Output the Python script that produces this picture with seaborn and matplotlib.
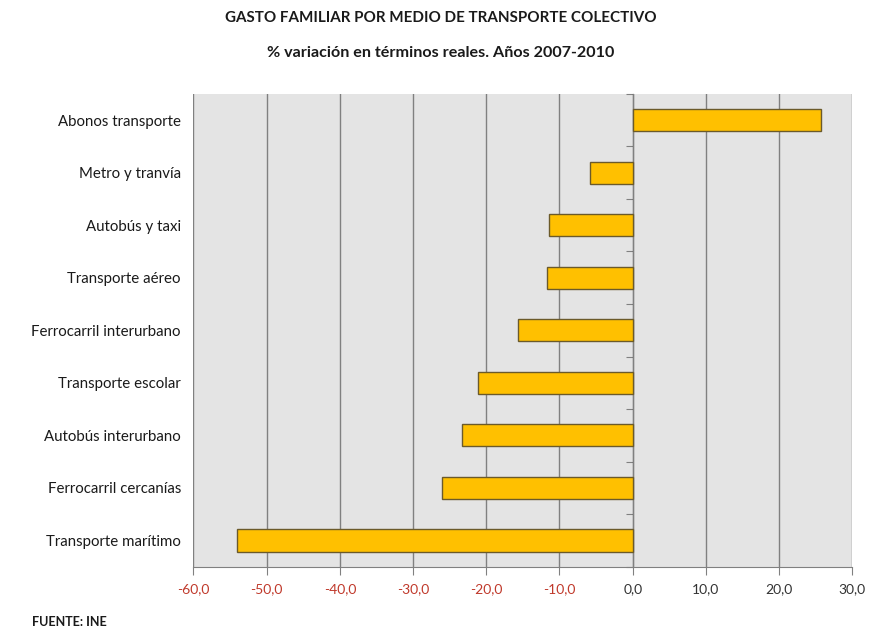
import matplotlib
matplotlib.use("Agg")
import matplotlib.pyplot as plt
import seaborn as sns
import pandas as pd

# Datos (% variación 2007-2010)
categorias = ['Abonos transporte', 'Metro y tranvía', 'Autobús y taxi', 'Transporte aéreo',
              'Ferrocarril interurbano', 'Transporte escolar', 'Autobús interurbano',
              'Ferrocarril cercanías', 'Transporte marítimo']
variacion = [25.7, -5.8, -11.5, -11.7, -15.7, -21.1, -23.3, -26.1, -54.0]
ticks_x = [-60, -50, -40, -30, -20, -10, 0, 10, 20, 30]

df = pd.DataFrame({'categoria': categorias, 'variacion': variacion})

plt.rcParams['font.family'] = ['Lato', 'DejaVu Sans']

fig = plt.figure(figsize=(8.81, 6.34), dpi=100)
ax = fig.add_axes([0.2195, 0.106, 0.748, 0.746])
ax.set_facecolor('#e4e4e4')

sns.barplot(data=df, y='categoria', x='variacion', orient='h', ax=ax,
            color='#ffc000', edgecolor='#6b5a2a', linewidth=1.0, width=0.42,
            saturation=1)

ax.set_xlim(-60, 30)
ax.set_xticks(ticks_x)
ax.set_xticklabels([f"{t:.1f}".replace('.', ',') for t in ticks_x], fontsize=10)
for lbl, t in zip(ax.get_xticklabels(), ticks_x):
    lbl.set_color('#c0392b' if t < 0 else '#333333')
ax.grid(axis='x', color='#808080', linewidth=1.0)
ax.set_axisbelow(True)
ax.tick_params(axis='x', length=6, color='#808080', pad=6)
ax.tick_params(axis='y', length=0, pad=9, labelsize=10.8, labelcolor='#1a1a1a')
ax.set_xlabel('')
ax.set_ylabel('')
for s in ['top', 'right', 'left']:
    ax.spines[s].set_visible(False)
ax.spines['bottom'].set_color('#808080')

# eje vertical en el cero con marcas entre categorías
sec = ax.secondary_yaxis(60 / 90)
sec.set_yticks([i + 0.5 for i in range(-1, len(categorias))])
sec.set_yticklabels([])
sec.tick_params(length=5, color='#808080', direction='in')
sec.spines['left'].set_color('#808080')

fig.text(0.5, 0.972, 'GASTO FAMILIAR POR MEDIO DE TRANSPORTE COLECTIVO',
         ha='center', va='center', fontsize=10.9, fontweight='bold', color='#1a1a1a')
fig.text(0.5, 0.916, '% variación en términos reales. Años 2007-2010',
         ha='center', va='center', fontsize=11.6, fontweight='bold', color='#1a1a1a')
fig.text(0.036, 0.019, 'FUENTE: INE', ha='left', va='center', fontsize=9,
         fontweight='bold', color='#1a1a1a')

fig.savefig('out.png', dpi=100)
